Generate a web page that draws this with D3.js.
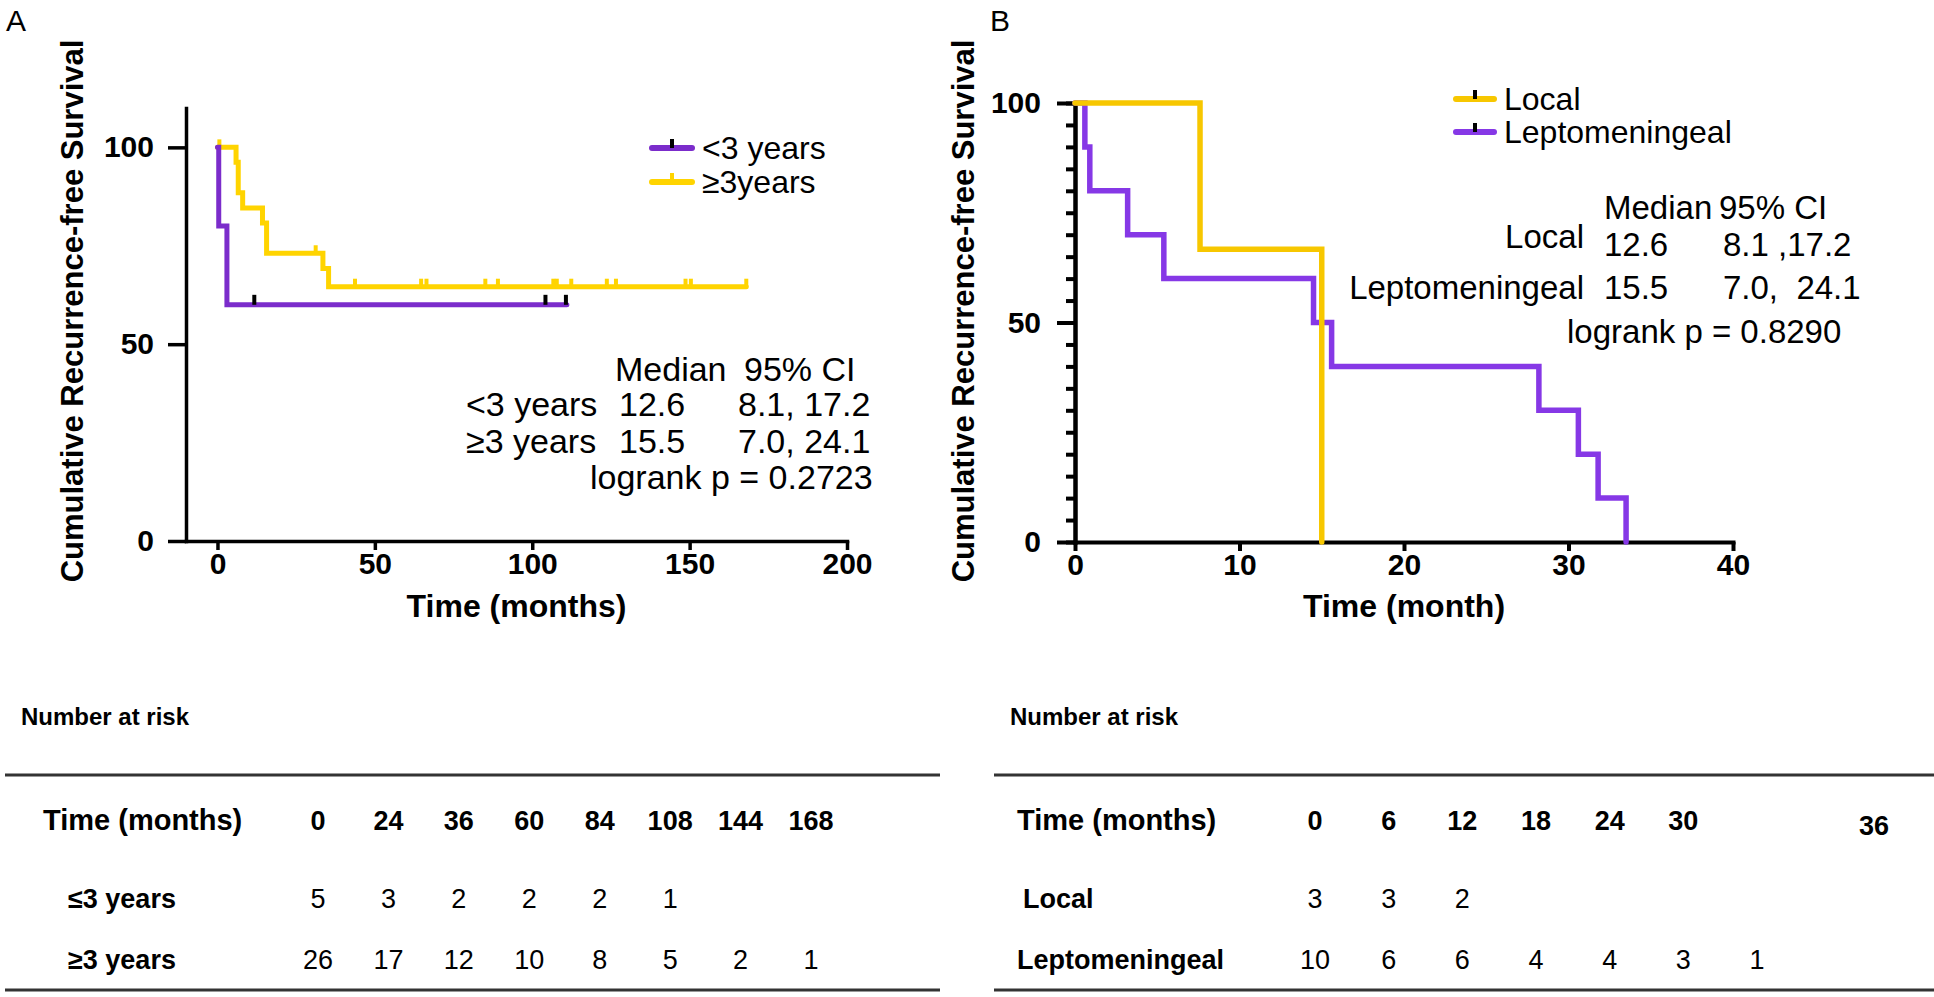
<!DOCTYPE html>
<html>
<head>
<meta charset="utf-8">
<script src="https://cdn.jsdelivr.net/npm/d3@7"></script>
<style>
  body { margin: 0; background: #fff; }
  svg text { font-family: "Liberation Sans", Arial, Helvetica, sans-serif; fill: #000; white-space: pre; }
</style>
</head>
<body>
<div class="chart"></div>
<script>
const width = 1934;
const height = 997;
const font = '"Liberation Sans", Arial, Helvetica, sans-serif';

const purpleA = "#7b2ccb", yellowA = "#ffd400";
const purpleB = "#8638e6", yellowB = "#f7c700";

// ---- panel A data ----
const groupsA = ["<3 years", "\u22653years"];
const lessTimes = [0, 0.4, 3.0];
const lessSurv = [100, 80, 60];
const lessEnd = 111;
const lessCensor = [11.7, 104.2, 110.7];
const moreTimes = [0, 5.9, 6.6, 8.0, 14.3, 15.6, 33.5, 35.3];
const moreSurv = [100, 96.2, 88.5, 84.6, 80.8, 73.1, 69.2, 64.6];
const moreEnd = 168;
const moreCensor = [0.6, 31.2, 43.7, 64.7, 66.4, 85.1, 89.1, 106.7, 107.8, 112.4, 123.7, 126.6, 148.7, 150.4, 168];

// ---- panel B data ----
const groupsB = ["Local", "Leptomeningeal"];
const localTimes = [0, 7.6, 15.0];
const localSurv = [100, 66.7, 0];
const leptoTimes = [0, 0.6, 0.9, 3.2, 5.4, 14.5, 15.6, 28.2, 30.6, 31.8, 33.5];
const leptoSurv = [100, 90, 80, 70, 60, 50, 40, 30, 20, 10, 0];

const xTicksA = [0, 50, 100, 150, 200];
const yTicksA = [0, 50, 100];
const xTicksB = [0, 10, 20, 30, 40];
const yTicksB = [0, 50, 100];
const yMinorB = [0, 5, 10, 15, 20, 25, 30, 35, 40, 45, 50, 55, 60, 65, 70, 75, 80, 85, 90, 95, 100];

// ---- stats text ----
const statsHead = ["Median", "95% CI"];
const statsA = [["<3 years", "12.6", "8.1, 17.2"], ["\u22653 years", "15.5", "7.0, 24.1"]];
const logrankA = "logrank p = 0.2723";
const statsB = [["Local", "12.6", "8.1 ,17.2"], ["Leptomeningeal", "15.5", "7.0,  24.1"]];
const logrankB = "logrank p = 0.8290";

// ---- number at risk ----
const riskTimesA = [0, 24, 36, 60, 84, 108, 144, 168];
const riskLess = [5, 3, 2, 2, 2, 1];
const riskMore = [26, 17, 12, 10, 8, 5, 2, 1];
const riskRowsA = ["\u22643 years", "\u22653 years"];
const riskTimesB = [0, 6, 12, 18, 24, 30, 36];
const riskLocal = [3, 3, 2];
const riskLepto = [10, 6, 6, 4, 4, 3, 1];

const svg = d3.select(".chart")
  .append("svg")
  .attr("width", width)
  .attr("height", height);

const xA = d3.scaleLinear().domain([-10, 200]).range([186, 847]);
const yA = d3.scaleLinear().domain([0, 110]).range([541, 108]);
const xB = d3.scaleLinear().domain([0, 40]).range([1075, 1733]);
const yB = d3.scaleLinear().domain([0, 100]).range([542, 103]);

function stepPoints(times, surv, end) {
  const pts = times.map((t, i) => [t, surv[i]]);
  pts.push([end, surv[surv.length - 1]]);
  return pts;
}

function styleAxis(g, w, size) {
  g.attr("font-family", font).attr("font-size", size).attr("font-weight", "bold");
  g.select(".domain").attr("stroke", "#000").attr("stroke-width", w).attr("stroke-linecap", "square");
  g.selectAll(".tick line").attr("stroke", "#000").attr("stroke-width", w);
  g.selectAll(".tick text").attr("fill", "#000");
}

function drawCurve(x, y, times, surv, end, color, w) {
  const line = d3.line()
    .x(d => x(d[0]))
    .y(d => y(d[1]))
    .curve(d3.curveStepAfter);
  svg.append("path")
    .datum(stepPoints(times, surv, end))
    .attr("fill", "none")
    .attr("stroke", color)
    .attr("stroke-width", w)
    .attr("stroke-linecap", "round")
    .attr("d", line);
}

function drawCensor(x, y, marks, times, surv, color, len, w) {
  const level = t => surv[d3.bisectRight(times, t) - 1];
  svg.append("g").selectAll("line")
    .data(marks)
    .join("line")
    .attr("x1", d => x(d)).attr("x2", d => x(d))
    .attr("y1", d => y(level(d)))
    .attr("y2", d => y(level(d)) - len)
    .attr("stroke", color)
    .attr("stroke-width", w);
}

function addText(txt, x, y, size, opts = {}) {
  return svg.append("text")
    .attr("x", x).attr("y", y)
    .attr("font-size", size)
    .attr("font-weight", opts.bold ? "bold" : "normal")
    .attr("text-anchor", opts.anchor || "start")
    .text(txt);
}

// ================= Panel A =================
addText("A", 6, 31, 30);

svg.append("g")
  .attr("transform", `translate(${xA.range()[0]},0)`)
  .call(d3.axisLeft(yA).tickValues(yTicksA).tickSize(18).tickPadding(14).tickSizeOuter(0))
  .call(g => styleAxis(g, 3.5, 30));

svg.append("g")
  .attr("transform", `translate(0,${yA(0)})`)
  .call(d3.axisBottom(xA).tickValues(xTicksA).tickSize(9).tickPadding(3).tickSizeOuter(0))
  .call(g => styleAxis(g, 3.5, 30));

addText("Time (months)", (xA.range()[0] + xA.range()[1]) / 2, 617, 32, { bold: true, anchor: "middle" });
svg.append("text")
  .attr("transform", "translate(83,311) rotate(-90)")
  .attr("text-anchor", "middle")
  .attr("font-size", 31)
  .attr("font-weight", "bold")
  .text("Cumulative Recurrence-free Survival");

drawCurve(xA, yA, moreTimes, moreSurv, moreEnd, yellowA, 5);
drawCensor(xA, yA, moreCensor, moreTimes, moreSurv, yellowA, 8, 4);
drawCurve(xA, yA, lessTimes, lessSurv, lessEnd, purpleA, 5);
drawCensor(xA, yA, lessCensor, lessTimes, lessSurv, "#000", 10, 4);

// legend A
[[purpleA, "#000"], [yellowA, yellowA]].forEach(([c, tc], i) => {
  const ly = 148 + i * 34;
  svg.append("line").attr("x1", 652).attr("x2", 692).attr("y1", ly).attr("y2", ly)
    .attr("stroke", c).attr("stroke-width", 6).attr("stroke-linecap", "round");
  svg.append("line").attr("x1", 672).attr("x2", 672).attr("y1", ly).attr("y2", ly - 9)
    .attr("stroke", tc).attr("stroke-width", 4);
  addText(groupsA[i], 702, ly + 11, 32);
});

// stats A
addText(statsHead[0], 615, 381, 34);
addText(statsHead[1], 744, 381, 34);
statsA.forEach((r, i) => {
  const by = [416, 453][i];
  addText(r[0], 466, by, 34);
  addText(r[1], 619, by, 34);
  addText(r[2], 738, by, 34);
});
addText(logrankA, 590, 489, 34);

// ================= Panel B =================
addText("B", 990, 31, 30);

svg.append("g")
  .attr("transform", `translate(${xB.range()[0]},0)`)
  .call(d3.axisLeft(yB).tickValues(yMinorB).tickSize(9).tickFormat("").tickSizeOuter(0))
  .call(g => styleAxis(g, 4, 30));
svg.append("g")
  .attr("transform", `translate(${xB.range()[0]},0)`)
  .call(d3.axisLeft(yB).tickValues(yTicksB).tickSize(18).tickPadding(16).tickSizeOuter(0))
  .call(g => styleAxis(g, 4, 30));

svg.append("g")
  .attr("transform", `translate(0,${yB(0)})`)
  .call(d3.axisBottom(xB).tickValues(xTicksB).tickSize(9).tickPadding(3).tickSizeOuter(0))
  .call(g => styleAxis(g, 4, 30));

addText("Time (month)", xB(20), 617, 32, { bold: true, anchor: "middle" });
svg.append("text")
  .attr("transform", "translate(974,311) rotate(-90)")
  .attr("text-anchor", "middle")
  .attr("font-size", 31)
  .attr("font-weight", "bold")
  .text("Cumulative Recurrence-free Survival");

drawCurve(xB, yB, leptoTimes, leptoSurv, leptoTimes[leptoTimes.length - 1], purpleB, 5.5);
drawCurve(xB, yB, localTimes, localSurv, localTimes[localTimes.length - 1], yellowB, 5.5);

// legend B
[yellowB, purpleB].forEach((c, i) => {
  const ly = 99 + i * 33;
  svg.append("line").attr("x1", 1456).attr("x2", 1494).attr("y1", ly).attr("y2", ly)
    .attr("stroke", c).attr("stroke-width", 6).attr("stroke-linecap", "round");
  svg.append("line").attr("x1", 1475).attr("x2", 1475).attr("y1", ly).attr("y2", ly - 9)
    .attr("stroke", "#000").attr("stroke-width", 4);
  addText(groupsB[i], 1504, ly + 11, 32);
});

// stats B
addText(statsHead[0], 1604, 219, 33);
addText(statsHead[1], 1719, 219, 33);
addText(statsB[0][0], 1584, 248, 33, { anchor: "end" });
addText(statsB[0][1], 1604, 256, 33);
addText(statsB[0][2], 1723, 256, 33);
addText(statsB[1][0], 1584, 299, 33, { anchor: "end" });
addText(statsB[1][1], 1604, 299, 33);
addText(statsB[1][2], 1723, 299, 33);
addText(logrankB, 1567, 343, 33);

// ================= Number at risk tables =================
function riskTable(times, rows, rowLabels, x0, x1, colRange, labelX, lastHeadShift) {
  const col = d3.scalePoint().domain(times).range(colRange);
  addText("Number at risk", x0 + 16, 725, 24, { bold: true });
  svg.append("line").attr("x1", x0).attr("x2", x1).attr("y1", 775).attr("y2", 775)
    .attr("stroke", "#333").attr("stroke-width", 3);
  svg.append("line").attr("x1", x0).attr("x2", x1).attr("y1", 990).attr("y2", 990)
    .attr("stroke", "#333").attr("stroke-width", 3);
  addText("Time (months)", labelX, 830, 29, { bold: true });
  times.forEach((t, i) => {
    const last = i === times.length - 1;
    addText(String(t), col(t) + (last ? lastHeadShift : 0), 830 + (last && lastHeadShift ? 5 : 0), 27, { bold: true, anchor: "middle" });
  });
  rows.forEach((vals, r) => {
    const by = [908, 969][r];
    addText(rowLabels[r], labelX + (rowLabels[r] === "Local" ? 6 : 0) + (x0 < 100 ? 25 : 0), by, 27, { bold: true });
    vals.forEach((v, i) => addText(String(v), col(times[i]), by, 27, { anchor: "middle" }));
  });
}

riskTable(riskTimesA, [riskLess, riskMore], riskRowsA, 5, 940, [318, 811], 43, 0);
riskTable(riskTimesB, [riskLocal, riskLepto], groupsB, 994, 1934, [1315, 1757], 1017, 117);
</script>
</body>
</html>
